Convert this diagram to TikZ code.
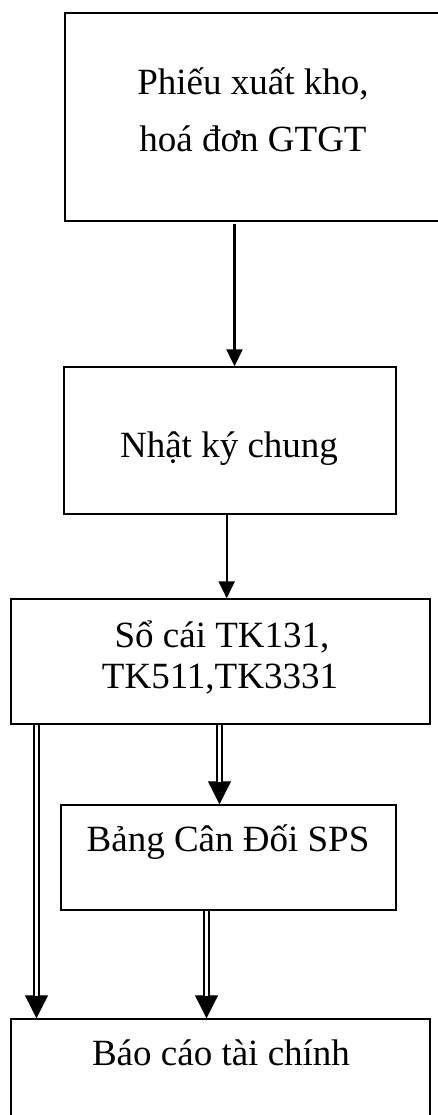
\documentclass[tikz,border=0pt]{standalone}
\usepackage{fontspec}
\setmainfont{Liberation Serif}
\usetikzlibrary{arrows.meta}

\tikzset{
  box/.style={draw, line width=1.4pt, rectangle, inner sep=0pt},
  lbl/.style={anchor=base, inner sep=0pt, font=\fontsize{37}{44}\selectfont},
  arr/.style={line width=2.2pt, -{Triangle[length=17pt, width=16pt]}},
  dtip/.style={line width=1pt, -{Triangle[length=23pt, width=23pt]}},
  dshaft/.style={line width=2.2pt, double=white, double distance=3pt, shorten >=22.5pt}
}

\begin{document}
\begin{tikzpicture}[x=1pt, y=-1pt]
  \clip (0,0) rectangle (438,1115);
  \fill[white] (0,0) rectangle (438,1115);

  % boxes
  \node[box, minimum width=376pt, minimum height=208pt] (b1) at (253,117) {};
  \node[box, minimum width=332pt, minimum height=147pt] (b2) at (230,440.5) {};
  \node[box, minimum width=419pt, minimum height=125pt] (b3) at (220.5,661.5) {};
  \node[box, minimum width=335pt, minimum height=105pt] (b4) at (228.5,857.5) {};
  \node[box, minimum width=419pt, minimum height=120pt] (b5) at (220.5,1079) {};

  % labels
  \node[lbl] (t1a) at (253,95) {Phiếu xuất kho,};
  \node[lbl] (t1b) at (253,152) {hoá đơn GTGT};
  \node[lbl] (t2) at (229,457) {Nhật ký chung};
  \node[lbl] (t3a) at (222,647) {Sổ cái TK131,};
  \node[lbl] (t3b) at (220,688) {TK511,TK3331};
  \node[lbl] (t4) at (228,851) {Bảng Cân Đối SPS};
  \node[lbl] (t5) at (221,1065) {Báo cáo tài chính};

  % single arrows
  \draw[arr] ([xshift=-18.5pt, yshift=-2pt]b1.south) -- ([xshift=4.5pt]b2.north);
  \draw[arr] ([xshift=-3.3pt]b2.south) -- ([xshift=6.2pt]b3.north);

  % double arrows: tip first, then the hollow shaft over it
  \draw[dtip] ([xshift=-184pt]b3.south) -- ([xshift=-184pt]b5.north);
  \draw[dshaft] ([xshift=-184pt]b3.south) -- ([xshift=-184pt]b5.north);

  \draw[dtip] ([xshift=-1pt]b3.south) -- ([xshift=-9pt]b4.north);
  \draw[dshaft] ([xshift=-1pt]b3.south) -- ([xshift=-9pt]b4.north);

  \draw[dtip] ([xshift=-22pt]b4.south) -- ([xshift=-14pt]b5.north);
  \draw[dshaft] ([xshift=-22pt]b4.south) -- ([xshift=-14pt]b5.north);
\end{tikzpicture}
\end{document}
